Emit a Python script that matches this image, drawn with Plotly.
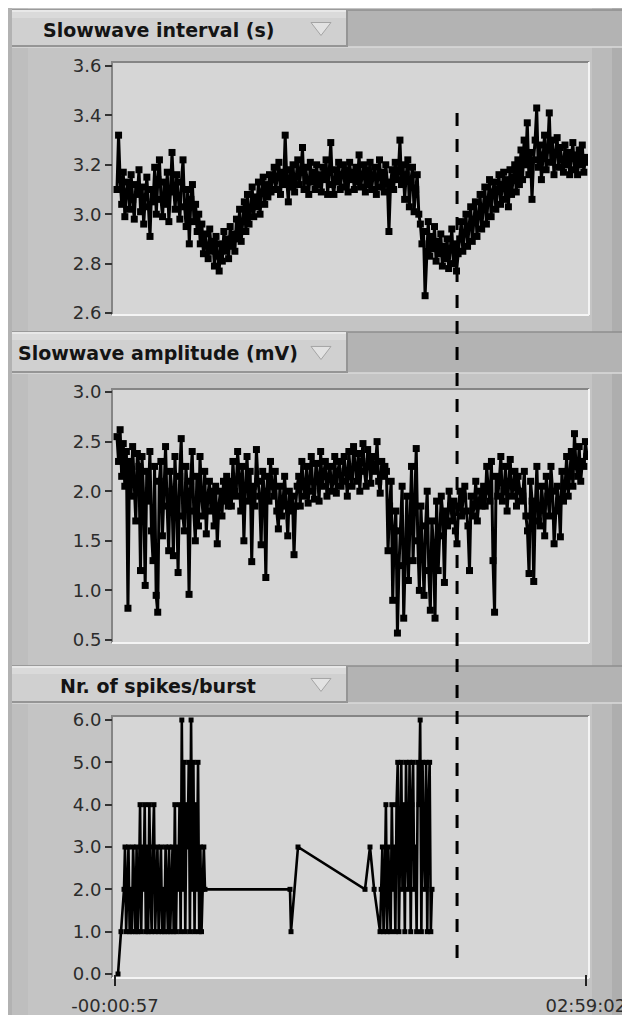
import numpy as np
import plotly.graph_objects as go

# The page body adds an 8px margin, so the figure is drawn 8px smaller and
# screen pixel positions below are converted with that offset.
OFF = 8
W, H = 630 - OFF, 1015 - OFF

# ---------------- data (time in minutes) ----------------
x_tick_vals = [-0.95, 179.03]
x_tick_text = ["-00:00:57", "02:59:02"]
event_time_min = 129.8

interval_t0, interval_t1 = -0.19, 179.47
interval_s = [
    3.10, 3.32, 3.14, 3.04, 3.17, 2.99, 3.09, 3.13, 3.02, 3.16, 3.06, 2.98, 3.12, 3.08, 3.18, 3.01,
    3.11, 2.96, 3.07, 3.15, 3.03, 2.91, 3.10, 3.05, 3.19, 3.00, 3.14, 3.22, 3.06, 2.99, 3.13, 3.04,
    3.17, 2.97, 3.09, 3.25, 3.11, 3.02, 3.16, 3.07, 2.98, 3.13, 3.22, 3.03, 2.95, 3.10, 2.88, 3.06,
    3.12, 2.97, 3.04,
    2.93, 3.00, 2.88, 2.96, 2.84, 2.92, 2.87, 2.82, 2.94, 2.85, 2.89, 2.79, 2.91, 2.83, 2.77, 2.88,
    2.81, 2.93, 2.85, 2.90, 2.82, 2.95, 2.87, 2.92, 2.85, 2.98, 2.90,
    3.02, 2.89, 2.97, 3.05, 2.93, 3.08, 2.96, 3.02, 3.11, 2.99, 3.07, 3.03, 3.13, 3.00, 3.09, 3.15,
    3.04, 3.12, 3.07, 3.16, 3.09, 3.14,
    3.19, 3.10, 3.15, 3.21, 3.08, 3.17, 3.12, 3.32, 3.14, 3.05, 3.18, 3.11, 3.20, 3.09, 3.15, 3.22,
    3.12, 3.17, 3.27, 3.10, 3.19, 3.14, 3.08, 3.21, 3.13, 3.17, 3.10, 3.20, 3.12, 3.16, 3.09, 3.19,
    3.14, 3.22, 3.08, 3.17, 3.29, 3.12, 3.08, 3.18, 3.13, 3.21, 3.10, 3.16, 3.20, 3.11, 3.18, 3.09,
    3.21, 3.14, 3.17, 3.10, 3.19, 3.13, 3.24, 3.11, 3.16, 3.20, 3.09, 3.18, 3.12, 3.21, 3.10, 3.16,
    3.19, 3.08, 3.15, 3.22, 3.11, 3.17, 3.09, 3.20, 3.13, 2.93, 3.12, 3.18, 3.10, 3.21, 3.14, 3.17,
    3.30, 3.12, 3.20, 3.06, 3.16, 3.22, 3.03, 3.14, 3.19, 3.01, 3.10, 3.16, 3.00,
    2.96, 2.88, 2.93, 2.67, 2.85, 2.97, 2.83, 2.91, 2.86, 2.95, 2.81, 2.89, 2.84, 2.92, 2.79, 2.87,
    2.82, 2.90, 2.78, 2.86, 2.94, 2.80, 2.88, 2.77, 2.84, 2.90,
    2.97, 2.85, 2.92, 3.00, 2.87, 2.95, 3.03, 2.89, 2.98, 3.05, 2.91, 3.00, 3.08, 2.94, 3.03, 3.11,
    2.96, 3.06, 3.14, 2.99, 3.09, 3.13, 3.02, 3.10, 3.16, 3.04, 3.12, 3.17, 3.06, 3.14, 3.03, 3.18,
    3.08, 3.15, 3.20, 3.09, 3.22, 3.12,
    3.26, 3.14, 3.30, 3.20, 3.37, 3.16, 3.25, 3.06, 3.22, 3.30, 3.43, 3.19, 3.28, 3.14, 3.24, 3.32,
    3.18, 3.26, 3.41, 3.21, 3.30, 3.16, 3.25, 3.31, 3.19, 3.27, 3.22, 3.17, 3.28, 3.20, 3.25, 3.16,
    3.23, 3.29, 3.18, 3.24, 3.16, 3.26, 3.20, 3.28, 3.17, 3.23, 3.21,
]

amplitude_t0, amplitude_t1 = -0.19, 179.47
amplitude_mV = [
    2.55, 2.30, 2.62, 2.15, 2.48, 2.05, 2.40, 0.82,
    2.30, 1.95, 2.45, 2.10, 1.70, 2.38, 2.25, 1.20, 2.35, 1.95, 1.05, 2.20, 1.90, 2.40, 1.60, 1.30,
    2.25, 0.95, 0.78, 2.10,
    2.30, 1.55, 2.05, 2.45, 1.85, 1.40, 2.20, 2.00, 1.35, 2.35, 1.90, 1.18, 2.15, 2.53, 1.75, 1.60,
    2.25, 2.00, 0.96, 2.10, 2.40, 1.80, 1.50, 2.15, 1.65,
    2.35, 1.95, 1.75, 2.20, 1.57, 1.95, 2.10, 1.80, 2.00, 1.65, 2.05, 1.47, 1.85, 2.00, 1.75, 2.10,
    1.90, 2.15, 1.85,
    2.10, 1.85, 2.30, 2.00, 1.95, 2.40, 2.15, 1.80, 2.25, 1.50, 2.05, 2.35, 1.90, 2.20, 1.29, 2.05,
    1.85, 2.42, 2.10, 1.95, 1.46, 2.20, 2.00, 1.13, 2.15, 1.90, 2.30, 2.05,
    1.95, 2.20, 1.80, 1.62, 2.05, 1.75, 1.90, 2.15, 1.85, 1.55, 2.00, 1.80, 1.95, 1.36, 1.85, 2.05,
    2.15, 1.85, 2.30, 2.05, 1.95, 2.25, 1.88, 2.10, 2.35, 2.00, 1.92, 2.28, 2.15, 1.90, 2.40, 2.05,
    2.20, 2.30, 1.95, 2.15, 2.25, 2.00, 2.10, 2.35, 1.98, 2.20, 2.30, 2.05,
    2.10, 2.35, 2.20, 1.95, 2.40, 2.15, 2.05, 2.45, 2.25, 2.10, 2.38, 2.00, 2.30, 2.48, 2.20, 2.05,
    2.42, 2.30, 2.08, 2.35, 2.20, 2.25, 2.50, 2.10, 1.98, 2.30, 2.15, 2.25,
    2.20, 1.40, 1.85, 2.10, 0.90, 1.60, 1.80, 0.57, 1.25, 1.60, 2.05, 0.72, 1.45, 1.95, 1.10, 1.70,
    2.25, 1.30, 1.85, 2.43, 1.50, 1.00, 1.85, 1.35, 0.95, 1.65, 2.00, 1.20, 0.80, 1.70, 1.45, 0.72,
    1.90, 1.20,
    1.55, 1.95, 1.75, 1.08, 1.80, 1.65, 2.00, 1.85, 1.70, 1.90, 1.60, 1.47, 1.85, 2.00, 1.75, 1.95,
    2.05, 1.80, 1.65, 1.20, 1.95, 1.75, 1.85, 2.10, 1.70, 1.90, 2.00, 1.85,
    2.05, 1.85, 2.25, 2.00, 1.90, 2.30, 1.30, 0.78, 2.15, 1.95, 2.10, 2.35, 1.90, 2.00, 2.25, 1.80,
    2.10, 2.32, 1.95, 2.05, 2.20, 1.85, 2.15, 2.00, 1.90,
    1.95, 2.20, 1.75, 1.60, 1.17, 2.10, 1.90, 1.09, 1.85, 2.25, 1.70, 1.65, 2.05, 1.85, 1.55, 2.15,
    1.95, 1.75, 2.25, 2.00, 1.47, 1.80, 2.05, 1.90, 1.54,
    2.20, 1.90, 2.05, 2.35, 1.95, 2.15, 2.40, 2.05, 2.58, 2.25, 2.15, 2.45, 2.10, 2.30, 2.25, 2.50,
    2.35,
]

spikes_start_t = [0.20, 1.34, 2.49]
spikes_start = [0, 1, 2]
burst1_t0, burst1_t1 = 2.87, 33.45
burst1_spikes = [
    3, 1, 2, 3, 1, 2, 1, 3, 2, 1, 3, 1, 2,
    4, 1, 3, 2, 4, 1, 3, 1, 4, 2, 1, 3, 4, 1, 2, 3, 1,
    2, 3, 1, 2, 1, 3, 2, 1, 3, 1, 2, 3, 1,
    4, 1, 3, 2, 4, 1, 6, 2, 5, 1, 4, 3, 5, 1, 6, 2, 5, 1, 4, 2, 5, 1, 3,
    1, 2, 3, 2,
]
spikes_mid_t = [65.94, 66.33, 69.00, 94.61, 96.52, 98.10]
spikes_mid = [2, 1, 3, 2, 3, 2]
burst2_t0, burst2_t1 = 100.35, 120.22
burst2_spikes = [
    1, 2, 3, 1, 2, 4, 1, 3, 2, 1, 4, 2, 3, 1, 4,
    5, 1, 3, 5, 2, 4, 1, 5, 3, 2, 5, 1, 4, 5, 2, 3, 1, 5, 4, 6, 1, 5, 3, 2, 5, 1, 4, 5, 1,
    2,
]

panel_titles = ["Slowwave interval (s)", "Slowwave amplitude (mV)", "Nr. of spikes/burst"]

# ---------------- assemble series ----------------
t_int = np.linspace(interval_t0, interval_t1, len(interval_s))
t_amp = np.linspace(amplitude_t0, amplitude_t1, len(amplitude_mV))
t_sp = (list(spikes_start_t) + list(np.linspace(burst1_t0, burst1_t1, len(burst1_spikes)))
        + list(spikes_mid_t) + list(np.linspace(burst2_t0, burst2_t1, len(burst2_spikes))))
v_sp = list(spikes_start) + burst1_spikes + spikes_mid + burst2_spikes

line_style = dict(color="black", width=3)
mk = dict(symbol="square", size=7, color="black")

fig = go.Figure()
fig.add_trace(go.Scatter(x=t_int, y=interval_s, mode="lines+markers", line=line_style, marker=mk,
                         xaxis="x", yaxis="y", showlegend=False))
fig.add_trace(go.Scatter(x=t_amp, y=amplitude_mV, mode="lines+markers", line=line_style, marker=mk,
                         xaxis="x", yaxis="y2", showlegend=False))
fig.add_trace(go.Scatter(x=t_sp, y=v_sp, mode="lines+markers", line=dict(color="black", width=2.6),
                         marker=dict(symbol="square", size=5, color="black"),
                         xaxis="x", yaxis="y3", showlegend=False, cliponaxis=False))

# ---------------- chrome ----------------
shapes = []
annotations = []


def fx(px):
    return (px - OFF) / W


def fy(py):
    return 1 - (py - OFF) / H


def rect(x0, y0, x1, y1, fill, layer="below"):
    shapes.append(dict(type="rect", xref="paper", yref="paper", x0=fx(x0), x1=fx(x1),
                       y0=fy(y1), y1=fy(y0), fillcolor=fill, line=dict(width=0), layer=layer))


def seg(x0, y0, x1, y1, color, w=1, layer="below"):
    shapes.append(dict(type="line", xref="paper", yref="paper", x0=fx(x0), x1=fx(x1),
                       y0=fy(y0), y1=fy(y1), line=dict(color=color, width=w), layer=layer))


# main background
rect(8, 8, 630, 1015, "#c4c4c4")
rect(8, 8, 12, 1015, "#b2b2b2")
rect(12, 8, 28, 1015, "#bebebe")
rect(592, 8, 630, 1015, "#bababa")
rect(612, 8, 630, 1015, "#aeaeae")

headers = [(10, 47), (332, 373), (666, 703)]
frames = [(62, 315), (389, 643), (716, 978)]

for (hy0, hy1), (fy0, fy1), title in zip(headers, frames, panel_titles):
    rect(12, hy0, 630, hy1, "#b3b3b3")
    seg(12, hy0, 630, hy0, "#8e8e8e", 1.5)
    seg(12, hy1, 630, hy1, "#dadada", 1.5)
    rect(12, hy0, 348, hy1, "#d0d0d0")
    rect(12, hy0, 348, hy0 + 8, "#dadada")
    seg(12, hy0 + 1, 348, hy0 + 1, "#ececec", 1.5)
    seg(12, hy1 - 1, 348, hy1 - 1, "#959595", 2)
    seg(347, hy0, 347, hy1, "#959595", 2)
    cy = (hy0 + hy1) / 2
    shapes.append(dict(type="path", xref="paper", yref="paper",
                       path="M {:.4f},{:.4f} L {:.4f},{:.4f} L {:.4f},{:.4f} Z".format(
                           fx(311), fy(cy - 6), fx(331), fy(cy - 6), fx(321), fy(cy + 7)),
                       fillcolor="#e2e2e2", line=dict(color="#a4a4a4", width=1), layer="below"))
    annotations.append(dict(text="<b>" + title + "</b>", xref="paper", yref="paper",
                            x=fx(158), y=fy(cy + 1), xanchor="center", yanchor="middle",
                            showarrow=False, font=dict(family="DejaVu Sans", size=19, color="#141414")))
    rect(112, fy0, 589, fy1, "#d6d6d6")
    seg(111, fy0, 589, fy0, "#858585", 2)
    seg(112, fy0, 112, fy1, "#858585", 2)
    seg(112, fy1, 589, fy1, "#f4f4f4", 2)
    seg(589, fy0, 589, fy1, "#f4f4f4", 2)

# dashed event line
shapes.append(dict(type="line", xref="x", yref="paper", x0=event_time_min, x1=event_time_min,
                   y0=fy(113), y1=fy(966), line=dict(color="black", width=3, dash="13px,13px"),
                   layer="above"))

tickfont = dict(family="DejaVu Sans", size=18, color="#2c2c2c")
yax_common = dict(showgrid=False, zeroline=False, showline=False, ticks="outside", ticklen=7,
                  tickwidth=1.5, tickcolor="#333333", tickfont=tickfont, tickformat=".1f",
                  anchor="x", fixedrange=True, automargin=False)

fig.update_layout(
    width=W, height=H, margin=dict(l=0, r=0, t=0, b=0, autoexpand=False),
    paper_bgcolor="white", plot_bgcolor="rgba(0,0,0,0)",
    shapes=shapes, annotations=annotations,
    xaxis=dict(domain=[fx(113), fx(588)], range=[-1.714, 179.85], showgrid=False, zeroline=False,
               showline=False, tickvals=x_tick_vals, ticktext=x_tick_text, ticks="outside",
               ticklen=11, tickwidth=2, tickcolor="#222222", tickfont=tickfont, anchor="y3",
               ticklabelstandoff=4, automargin=False, fixedrange=True),
    yaxis=dict(domain=[fy(313), fy(66)], range=[2.6, 3.6], dtick=0.2, tick0=2.6, **yax_common),
    yaxis2=dict(domain=[fy(640), fy(392)], range=[0.5, 3.0], dtick=0.5, tick0=0.5, **yax_common),
    yaxis3=dict(domain=[fy(974), fy(720)], range=[0, 6], dtick=1, tick0=0, **yax_common),
)

fig.write_html("out.html")
